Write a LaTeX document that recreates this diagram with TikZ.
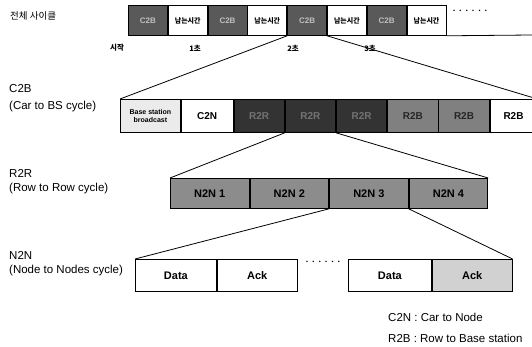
\documentclass[tikz,border=0pt]{standalone}
\usepackage{fontspec}
\setmainfont{Liberation Sans}
\newfontfamily\kr{Noto Sans CJK KR}
\usepackage{tikz}
\usetikzlibrary{calc}
\usepackage{xcolor}

\begin{document}
\begin{tikzpicture}[x=1pt,y=-1pt,
			slot/.style={draw,rectangle,line width=0.8pt,inner sep=0pt,anchor=north west},
			cyc/.style={slot,fill=black!65,text=black!25,minimum width=39pt,minimum height=30pt,font=\bfseries\fontsize{8}{9}\selectfont},
			idle/.style={slot,fill=white,minimum width=39pt,minimum height=30pt,font=\kr\bfseries\fontsize{7}{8}\selectfont},
			cbox/.style={slot,minimum width=50.4pt,minimum height=33pt,font=\bfseries\fontsize{10}{11}\selectfont},
			nbox/.style={slot,fill=black!45,minimum width=78.75pt,minimum height=30pt,font=\bfseries\fontsize{11}{12}\selectfont},
			dbox/.style={slot,minimum width=81pt,minimum height=32pt,font=\bfseries\fontsize{11}{12}\selectfont},
			lbl/.style={anchor=west,inner sep=0pt,font=\fontsize{11.5}{13}\selectfont},
			sec/.style={inner sep=0pt,font=\kr\bfseries\fontsize{7.5}{8}\selectfont},
			dts/.style={inner sep=0pt,font=\bfseries\fontsize{14}{14}\selectfont},
			link/.style={line width=0.8pt}]
			\useasboundingbox (0,0) rectangle (532,347);
			% whole cycle
			\node[lbl,font=\kr\fontsize{9.5}{11}\selectfont] (tt) at (10,16) {전체 사이클};
			\node[cyc] (c1) at (128,5) {C2B};
			\node[idle] (i1) at (c1.north east) {남는시간};
			\node[cyc] (c2) at (i1.north east) {C2B};
			\node[idle] (i2) at (c2.north east) {남는시간};
			\node[cyc] (c3) at (i2.north east) {C2B};
			\node[idle] (i3) at (c3.north east) {남는시간};
			\node[cyc] (c4) at (i3.north east) {C2B};
			\node[idle] (i4) at (c4.north east) {남는시간};
			\node[dts] (dt) at (470,11) {$\cdots\cdots$};
			\coordinate (re) at (532,35);
			\draw[link] (i4.south east) -- (re);
			\node[sec] (s0) at (117,48) {시작};
			\node[sec] (s1) at (195,48) {1초};
			\node[sec] (s2) at (293,48) {2초};
			\node[sec] (s3) at (370,48) {3초};
			% C2B
			\node[lbl] (la) at (9,89) {C2B};
			\node[lbl] (lb) at (9,107) {(Car to BS cycle)};
			\node[slot,fill=black!8,minimum width=60pt,minimum height=33pt,align=center,
				font=\bfseries\fontsize{7}{7.5}\selectfont] (bs) at (120,99) {Base station\\broadcast};
			\node[cbox,fill=white,minimum width=52pt] (cn) at (bs.north east) {C2N};
			\node[cbox,fill=black!80,text=black!55] (k1) at (cn.north east) {R2R};
			\node[cbox,fill=black!80,text=black!55] (k2) at (k1.north east) {R2R};
			\node[cbox,fill=black!80,text=black!55] (k3) at (k2.north east) {R2R};
			\node[cbox,fill=black!50,text=black!85] (k4) at (k3.north east) {R2B};
			\node[cbox,fill=black!50,text=black!85] (k5) at (k4.north east) {R2B};
			\node[cbox,fill=white,minimum width=47pt] (rb) at (k5.north east) {R2B};
			\draw[link] (c3.south west) -- (bs.north west);
			\draw[link] (c3.south east) -- (rb.north east);
			% R2R
			\node[lbl] (lc) at (9,173) {R2R};
			\node[lbl] (ld) at (9,189) {(Row to Row cycle)};
			\node[nbox] (n1) at (170,178) {N2N 1};
			\node[nbox] (n2) at (n1.north east) {N2N 2};
			\node[nbox] (n3) at (n2.north east) {N2N 3};
			\node[nbox] (n4) at (n3.north east) {N2N 4};
			\draw[link] (k2.south west) -- (n1.north west);
			\draw[link] (k2.south east) -- (n4.north east);
			% N2N
			\node[lbl] (le) at (9,255) {N2N};
			\node[lbl] (lf) at (9,271) {(Node to Nodes cycle)};
			\node[dbox,fill=white] (d1) at (135,259) {Data};
			\node[dbox,fill=white,minimum width=80pt] (a1) at (d1.north east) {Ack};
			\node[dts] (dn) at (323,262) {$\cdots\cdots$};
			\node[dbox,fill=white,minimum width=83pt] (d2) at (348,259) {Data};
			\node[dbox,fill=black!18,minimum width=80pt] (a2) at (d2.north east) {Ack};
			\draw[link] (n3.south west) -- (d1.north west);
			\draw[link] (n3.south east) -- (a2.north east);
			% legend
			\node[lbl] (g1) at (388,317) {C2N : Car to Node};
			\node[lbl] (g2) at (388,338) {R2B : Row to Base station};
		\end{tikzpicture}
\end{document}
